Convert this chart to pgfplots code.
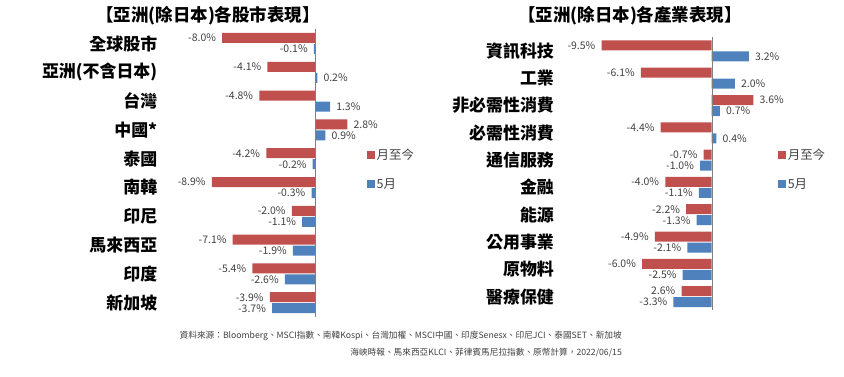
\documentclass[border=0pt]{standalone}
\usepackage{pgfplots}
\pgfplotsset{compat=1.18}
\usepackage{pgfplotstable}
\usepackage{fontspec}
\setmainfont{Noto Sans CJK TC}
\definecolor{cred}{HTML}{C0504D}
\definecolor{cblue}{HTML}{4F81BD}
\definecolor{labc}{HTML}{404040}

\pgfplotstableread{
y val lab
0 -8.0 -8.0
1 -4.1 -4.1
2 -4.8 -4.8
3 2.8 2.8
4 -4.2 -4.2
5 -8.9 -8.9
6 -2.0 -2.0
7 -7.1 -7.1
8 -5.4 -5.4
9 -3.9 -3.9
}\leftred
\pgfplotstableread{
y val lab
0 -0.1 -0.1
1 0.2 0.2
2 1.3 1.3
3 0.9 0.9
4 -0.2 -0.2
5 -0.3 -0.3
6 -1.1 -1.1
7 -1.9 -1.9
8 -2.6 -2.6
9 -3.7 -3.7
}\leftblue
\pgfplotstableread{
y val lab
0 -9.5 -9.5
1 -6.1 -6.1
2 3.6 3.6
3 -4.4 -4.4
4 -0.7 -0.7
5 -4.0 -4.0
6 -2.2 -2.2
7 -4.9 -4.9
8 -6.0 -6.0
9 -2.6 2.6
}\rightred
\pgfplotstableread{
y val lab
0 3.2 3.2
1 2.0 2.0
2 0.7 0.7
3 0.4 0.4
4 -1.0 -1.0
5 -1.1 -1.1
6 -1.3 -1.3
7 -2.1 -2.1
8 -2.5 -2.5
9 -3.3 -3.3
}\rightblue

\pgfplotsset{
  panel/.style={
    scale only axis, width=203bp,
    xmin=-13.5, xmax=4, ymin=-0.5, ymax=9.5,
    y dir=reverse, hide x axis,
    y axis line style={draw=none},
    ytick={0,...,9}, ytick style={draw=none}, major tick length=0pt,
    yticklabel style={font=\bfseries\fontsize{17}{18}\selectfont, text=black, inner sep=1bp},
    xbar, bar width=10bp,
    point meta=explicit symbolic,
    visualization depends on={\thisrow{val} \as \rawx},
    nodes near coords={\pgfplotspointmeta\%},
    nodes near coords style={font=\fontsize{10.5}{12}\selectfont, text=labc, inner ysep=2bp, inner xsep=6bp},
    every node near coord/.append code={%
      \ifdim\rawx pt<0pt \pgfkeysalso{/tikz/anchor=east}\else\pgfkeysalso{/tikz/anchor=west}\fi},
    clip=false,
    legend style={draw=none, fill=none, inner sep=0pt, outer sep=0pt,
      font=\fontsize{12.5}{14}\selectfont, text=labc, row sep=13bp,
      nodes={inner sep=2bp}},
    legend cell align=left,
    legend image code/.code={\fill[##1,draw=none] (0bp,-4bp) rectangle (8bp,4bp);},
  },
  redbar/.style={fill=cred, draw=none, bar shift=5.5bp},
  bluebar/.style={fill=cblue, draw=none, bar shift=-5.5bp},
}

\begin{document}
\begin{tikzpicture}[x=1bp,y=1bp]
\path (0,0) rectangle (844,376);

\node[font=\bfseries\fontsize{17.5}{19}\selectfont] at (208,360) {【亞洲(除日本)各股市表現】};
\node[font=\bfseries\fontsize{17.5}{19}\selectfont] at (630,360) {【亞洲(除日本)各產業表現】};

\begin{axis}[panel, height=288bp, at={(158.4bp,346.9bp)}, anchor=north west,
  yticklabels={全球股市,亞洲(不含日本),台灣,中國*,泰國,南韓,印尼,馬來西亞,印度,新加坡},
  legend style={at={(axis cs:4.45,4.375)}, anchor=west}]
\addplot[redbar] table[x=val, y=y, meta=lab] {\leftred};
\addlegendentry{月至今}
\addplot[bluebar] table[x=val, y=y, meta=lab] {\leftblue};
\addlegendentry{5月}
\draw[gray] (axis cs:0,-0.5) -- (axis cs:0,9.5);
\end{axis}

\begin{axis}[panel, height=273bp, at={(555.1bp,338.7bp)}, anchor=north west,
  yticklabels={資訊科技,工業,非必需性消費,必需性消費,通信服務,金融,能源,公用事業,原物料,醫療保健},
  legend style={at={(axis cs:5.7,4.34)}, anchor=west}]
\addplot[redbar] table[x=val, y=y, meta=lab] {\rightred};
\addlegendentry{月至今}
\addplot[bluebar] table[x=val, y=y, meta=lab] {\rightblue};
\addlegendentry{5月}
\draw[gray] (axis cs:0,-0.5) -- (axis cs:0,9.5);
\end{axis}

\node[anchor=east, font=\fontsize{8.7}{10}\selectfont, text=labc, inner sep=0pt] at (622,40) {資料來源：Bloomberg、MSCI指數、南韓Kospi、台灣加權、MSCI中國、印度Senesx、印尼JCI、泰國SET、新加坡};
\node[anchor=east, font=\fontsize{8.7}{10}\selectfont, text=labc, inner sep=0pt] at (622,23) {海峽時報、馬來西亞KLCI、菲律賓馬尼拉指數、原幣計算，2022/06/15};
\end{tikzpicture}
\end{document}
